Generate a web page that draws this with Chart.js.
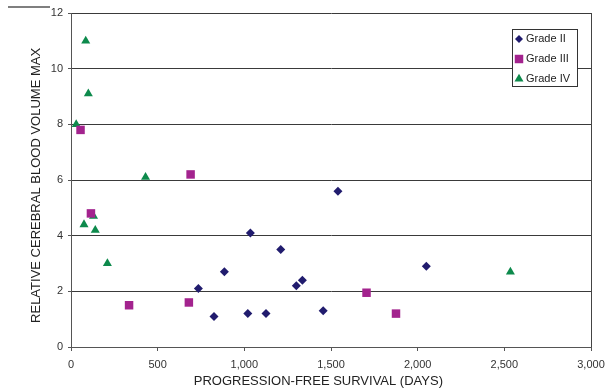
<!DOCTYPE html>
<html>
<head>
<meta charset="utf-8">
<script src="https://cdn.jsdelivr.net/npm/chart.js@4/dist/chart.umd.min.js"></script>
<style>
    html, body { margin: 0; padding: 0; background: #fff; }
    #wrap { width: 606px; height: 390px; position: relative; }
</style>
</head>
<body>
<div id="wrap"><canvas id="scatterChart"></canvas></div>
<script>
// Grade II
const gradeTwoDays = [735, 825, 885, 1020, 1035, 1125, 1210, 1300, 1335, 1455, 1540, 2050];
const gradeTwoRcbv = [2.1, 1.1, 2.7, 1.2, 4.1, 1.2, 3.5, 2.2, 2.4, 1.3, 5.6, 2.9];
// Grade III
const gradeThreeDays = [55, 115, 335, 680, 690, 1705, 1875];
const gradeThreeRcbv = [7.8, 4.8, 1.5, 1.6, 6.2, 1.95, 1.2];
// Grade IV
const gradeFourDays = [30, 75, 85, 100, 130, 140, 210, 430, 2535];
const gradeFourRcbv = [8.0, 4.4, 11.0, 9.1, 4.7, 4.2, 3.0, 6.1, 2.7];

const xTicks = [0, 500, 1000, 1500, 2000, 2500, 3000];
const yTicks = [0, 2, 4, 6, 8, 10, 12];

const toPoints = (xs, ys) => xs.map((x, i) => ({ x: x, y: ys[i] }));

const fontFamily = "'Liberation Sans', Arial, sans-serif";

// legend box drawn inside the plot, top right
const boxLegend = {
    id: 'boxLegend',
    afterDraw(chart) {
        const ctx = chart.ctx;
        const left = 512, top = 29, w = 65, h = 57;
        ctx.save();
        ctx.fillStyle = '#fff';
        ctx.fillRect(left, top, w, h);
        ctx.strokeStyle = '#333';
        ctx.lineWidth = 1;
        ctx.strokeRect(left + 0.5, top + 0.5, w, h);
        ctx.font = '11px ' + fontFamily;
        ctx.textBaseline = 'middle';
        chart.data.datasets.forEach((ds, i) => {
            const y = top + 10 + i * 20;
            ctx.fillStyle = ds.backgroundColor;
            ctx.strokeStyle = ds.backgroundColor;
            Chart.helpers.drawPoint(ctx, {
                pointStyle: ds.pointStyle,
                radius: ds.legendRadius,
                rotation: 0,
                borderWidth: 0
            }, left + 7, y);
            ctx.fillStyle = '#222';
            ctx.fillText(ds.label, left + 14, y);
        });
        // little stray rule in the top-left corner of the original figure
        ctx.strokeStyle = '#555';
        ctx.lineWidth = 1.5;
        ctx.beginPath();
        ctx.moveTo(8, 7);
        ctx.lineTo(50, 7);
        ctx.stroke();
        ctx.restore();
    }
};

new Chart(document.getElementById('scatterChart'), {
    type: 'scatter',
    data: {
        datasets: [
            {
                label: 'Grade II',
                data: toPoints(gradeTwoDays, gradeTwoRcbv),
                pointStyle: 'rectRot',
                pointRadius: 4.5,
                legendRadius: 4,
                backgroundColor: '#211c6e',
                borderColor: '#211c6e',
                borderWidth: 0
            },
            {
                label: 'Grade III',
                data: toPoints(gradeThreeDays, gradeThreeRcbv),
                pointStyle: 'rect',
                pointRadius: 6,
                legendRadius: 6,
                backgroundColor: '#a3238e',
                borderColor: '#a3238e',
                borderWidth: 0
            },
            {
                label: 'Grade IV',
                data: toPoints(gradeFourDays, gradeFourRcbv),
                pointStyle: 'triangle',
                pointRadius: 5.2,
                legendRadius: 5.2,
                backgroundColor: '#0d8a4c',
                borderColor: '#0d8a4c',
                borderWidth: 0
            }
        ]
    },
    options: {
        responsive: true,
        maintainAspectRatio: false,
        animation: false,
        layout: {
            padding: { left: 0, top: 13, right: 15, bottom: 0 }
        },
        plugins: {
            legend: { display: false },
            tooltip: { enabled: false }
        },
        scales: {
            x: {
                type: 'linear',
                min: 0,
                max: 3000,
                afterBuildTicks: (scale) => { scale.ticks = xTicks.map(v => ({ value: v })); },
                afterFit: (scale) => {
                    scale.height = 43;
                    scale.paddingLeft = 0;
                    scale.paddingRight = 0;
                },
                ticks: {
                    color: '#333',
                    padding: 7,
                    maxRotation: 0,
                    font: { size: 11, family: fontFamily },
                    callback: (v) => v.toLocaleString('en-US')
                },
                grid: {
                    color: (c) => (c.tick && c.tick.value === 3000) ? '#444' : 'rgba(0,0,0,0)',
                    tickColor: '#555',
                    tickLength: 4,
                    drawTicks: true
                },
                border: { color: '#555', width: 1 },
                title: {
                    display: true,
                    // trailing spaces nudge the title left, as in the original
                    text: 'PROGRESSION-FREE SURVIVAL (DAYS)       ',
                    color: '#222',
                    font: { size: 13, family: fontFamily },
                    padding: { top: 0, bottom: 1 }
                }
            },
            y: {
                type: 'linear',
                min: 0,
                max: 12,
                afterBuildTicks: (scale) => { scale.ticks = yTicks.map(v => ({ value: v })); },
                afterFit: (scale) => { scale.width = 71; },
                ticks: {
                    color: '#333',
                    padding: 5,
                    font: { size: 11, family: fontFamily }
                },
                grid: {
                    color: '#3a3a3a',
                    lineWidth: 1,
                    tickColor: '#555',
                    tickLength: 3
                },
                border: { color: '#555', width: 1 },
                title: {
                    display: true,
                    text: 'RELATIVE CEREBRAL BLOOD VOLUME MAX   ',
                    color: '#222',
                    font: { size: 13, family: fontFamily },
                    padding: { top: 29, bottom: 0 }
                }
            }
        }
    },
    plugins: [boxLegend]
});
</script>
</body>
</html>
